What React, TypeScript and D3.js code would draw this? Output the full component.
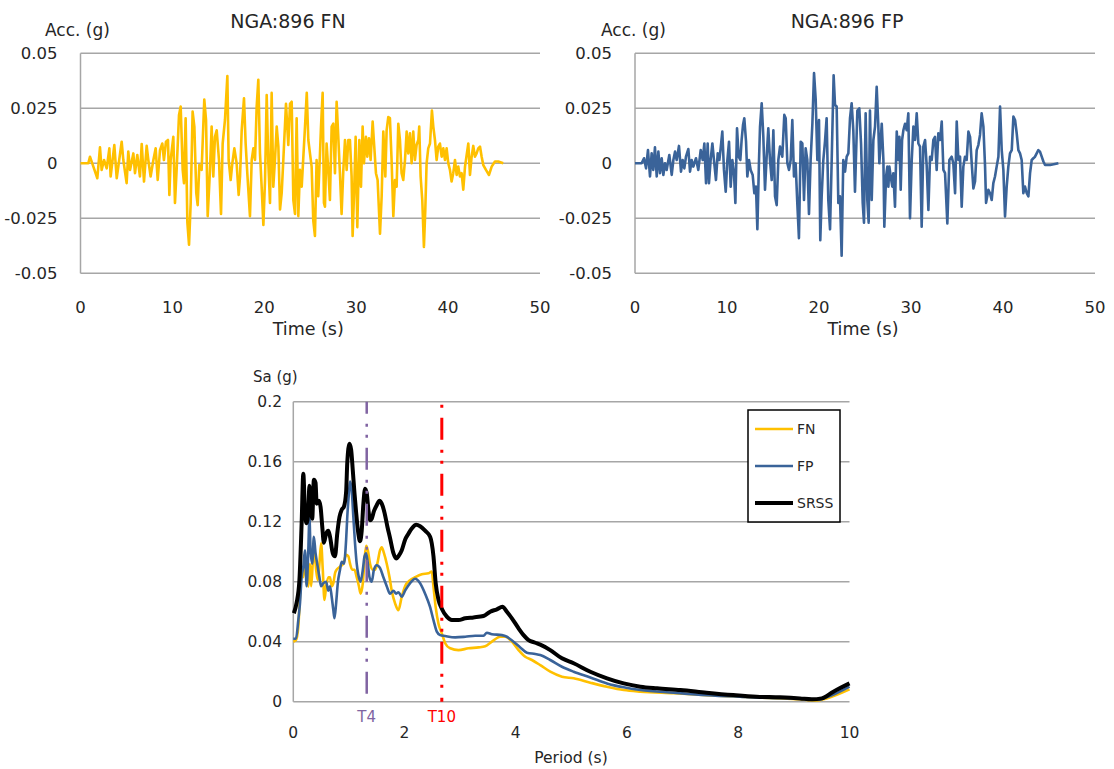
import React from "react";
import * as d3 from "d3";

// ---- Acceleration records (time in s, acceleration in g) ----
const fnRecord: [number, number][] = [
  [0,0],[0.85,0],[1.03,0.003],[1.40,-0.0015],[1.83,-0.0068],[2.12,0.0073],[2.30,-0.003],[2.56,0.0015],[2.85,-0.0023],[3.14,0.0068],[3.28,-0.006],[3.68,0.0083],[3.94,-0.0068],[4.48,0.0098],[4.66,0.0015],[5.02,-0.009],[5.20,0.0053],[5.39,-0.003],[5.75,0.0045],[5.93,-0.0045],[6.18,0.0038],[6.47,-0.006],[6.66,0.0088],[6.91,-0.0083],[7.20,0.0079],[7.38,0.0015],[7.63,-0.006],[7.93,0.0015],[8.18,0.0068],[8.40,-0.0076],[8.65,0.006],[8.90,0.009],[9.08,0.0015],[9.30,0.0098],[9.52,0.0106],[9.67,-0.0144],[9.81,0.0015],[10.10,0.012],[10.28,-0.018],[10.46,-0.003],[10.72,0.022],[10.90,0.0258],[11.12,-0.003],[11.26,-0.009],[11.44,0.0205],[11.63,-0.027],[11.81,-0.037],[11.99,-0.018],[12.20,0.0235],[12.39,0.0167],[12.60,-0.0136],[12.75,-0.019],[12.93,-0.0008],[13.18,-0.003],[13.37,0.018],[13.47,0.029],[13.66,0.0197],[13.84,-0.024],[14.09,-0.003],[14.27,0.0167],[14.45,-0.006],[14.63,0.012],[14.82,0.015],[15.07,0.0015],[15.29,-0.023],[15.47,0.009],[15.72,0.0197],[15.98,0.0397],[16.12,0.0015],[16.34,-0.0076],[16.52,0],[16.74,0.0068],[16.99,0],[17.21,-0.0144],[17.36,-0.006],[17.54,0.015],[17.79,0.0295],[17.97,0.009],[18.15,-0.0045],[18.44,-0.024],[18.63,0.0015],[18.81,0.0068],[18.99,0.0015],[19.17,0.0258],[19.35,0.038],[19.53,0.0045],[19.71,-0.0106],[19.90,-0.028],[20.08,-0.0076],[20.26,0.031],[20.44,0],[20.62,-0.018],[20.80,0.032],[20.98,-0.0106],[21.16,0.0015],[21.35,0.0167],[21.53,0.0076],[21.71,-0.021],[21.89,-0.0136],[22.07,0.0015],[22.36,0.027],[22.61,0.0083],[22.80,0.027],[22.98,0.028],[23.16,-0.0167],[23.34,-0.023],[23.52,0.0205],[23.70,-0.024],[23.88,-0.003],[24.07,-0.0106],[24.43,0.0167],[24.62,0.032],[24.79,0.0106],[24.97,0.0045],[25.15,-0.0015],[25.33,-0.026],[25.51,-0.033],[25.69,0.0015],[25.87,-0.015],[26.06,0.0045],[26.17,0.0167],[26.35,0.032],[26.49,-0.018],[26.60,-0.0197],[26.78,0.009],[26.96,-0.003],[27.14,-0.0167],[27.33,0.0167],[27.51,0.018],[27.69,-0.0045],[27.87,0.028],[28.05,0.012],[28.23,-0.0045],[28.41,-0.023],[28.60,-0.003],[28.78,0.0106],[28.96,-0.003],[29.14,0.0106],[29.32,0.0106],[29.50,-0.006],[29.61,-0.033],[29.79,-0.0106],[29.94,0.012],[30.12,-0.029],[30.34,0.0106],[30.52,-0.0106],[30.70,0.0167],[30.84,0],[31.06,0.012],[31.21,0.003],[31.39,0.0114],[31.57,0.0015],[31.79,0.019],[31.93,0.0098],[32.15,-0.0045],[32.33,-0.0076],[32.59,-0.032],[32.77,-0.015],[32.95,0.0144],[33.17,-0.006],[33.31,0.015],[33.49,0.021],[33.67,0.0205],[33.85,0.0015],[34.04,-0.024],[34.22,-0.0076],[34.40,-0.0106],[34.58,0.018],[34.76,0.0106],[34.94,-0.0045],[35.12,-0.0076],[35.31,0.0015],[35.49,0.0144],[35.67,0.0045],[35.85,0.0136],[36.03,0],[36.21,0.0144],[36.39,0.0015],[36.57,0.0083],[36.76,0.0106],[36.86,0.0167],[37.01,-0.006],[37.19,-0.0167],[37.37,-0.038],[37.52,-0.021],[37.66,0],[37.84,0.0068],[38.03,0.009],[38.24,0.024],[38.39,0.0167],[38.57,0.0106],[38.75,0.0015],[38.93,0.0076],[39.11,0.009],[39.30,0.003],[39.48,0.0068],[39.66,0.0015],[39.84,0.0068],[40.02,0],[40.20,-0.003],[40.38,-0.0083],[40.56,-0.0045],[40.75,0.0015],[40.93,-0.0053],[41.11,-0.0015],[41.29,-0.006],[41.47,-0.0045],[41.65,-0.012],[41.84,-0.0015],[42.02,0.0038],[42.20,0.009],[42.38,-0.0053],[42.56,0.003],[42.74,0.0079],[42.92,0.003],[43.10,0.0045],[43.28,0.0068],[43.47,0.0076],[43.65,0.003],[43.83,-0.0008],[44.12,-0.003],[44.45,-0.0053],[44.74,-0.0015],[45.10,0.0008],[45.46,0.0008],[46.00,0]
];

const fpRecord: [number, number][] = [
  [0,0],[0.72,0],[0.98,0.0023],[1.20,-0.0023],[1.41,0.006],[1.63,-0.006],[1.81,0.0045],[1.99,-0.003],[2.17,0.0073],[2.36,-0.006],[2.54,0.0053],[2.72,-0.0045],[2.90,0.0023],[3.08,-0.0053],[3.26,0],[3.44,-0.003],[3.73,0.0038],[3.99,-0.0053],[4.17,0.0015],[4.35,0.0053],[4.53,0.0015],[4.78,0.0079],[5.00,-0.0038],[5.18,0.0015],[5.36,-0.0023],[5.54,0.003],[5.80,0.0065],[5.98,-0.0038],[6.16,0.0015],[6.34,-0.0015],[6.63,0.0023],[6.88,-0.003],[7.14,0.006],[7.36,0.0015],[7.54,0.009],[7.72,-0.009],[7.90,0.009],[8.04,-0.009],[8.22,0.0015],[8.41,0.009],[8.62,0],[8.80,-0.0076],[8.99,0.0045],[9.17,0.0015],[9.31,0.0068],[9.49,0.0144],[9.67,-0.003],[9.86,-0.0129],[10.04,0.0015],[10.22,0.0098],[10.40,-0.0106],[10.58,0.0015],[10.76,-0.0045],[10.91,-0.018],[11.09,0.0159],[11.27,0.003],[11.45,0.0015],[11.59,0.0106],[11.74,0.0174],[11.88,0.0205],[12.07,0.0098],[12.21,-0.006],[12.39,0.0015],[12.57,-0.003],[12.79,-0.0053],[12.97,-0.0136],[13.15,-0.0106],[13.30,-0.03],[13.48,0.0015],[13.59,0.0167],[13.77,0.0273],[13.95,0.012],[14.13,-0.012],[14.31,0.003],[14.49,0.0159],[14.67,0.0015],[14.86,-0.0076],[15.04,0.015],[15.22,-0.015],[15.40,-0.019],[15.58,0.0015],[15.76,0.0076],[16.01,0.003],[16.23,0.022],[16.38,0.0205],[16.56,0],[16.74,-0.003],[16.92,0.0015],[17.10,0.0197],[17.28,-0.006],[17.46,0],[17.64,-0.018],[17.82,-0.034],[18.01,0.0098],[18.19,0.009],[18.37,-0.0167],[18.55,0.0068],[18.73,0.0015],[18.91,-0.023],[19.09,0.0015],[19.28,0.018],[19.46,0.041],[19.64,0.029],[19.82,0.0015],[20.00,0.0197],[20.14,-0.035],[20.29,-0.015],[20.47,0.0015],[20.65,0.0098],[20.83,0.0205],[21.01,-0.0167],[21.20,-0.03],[21.38,0.0015],[21.59,0.04],[21.74,0.0265],[21.92,0.0258],[22.10,-0.018],[22.28,-0.015],[22.46,-0.042],[22.64,0.0015],[22.83,-0.0038],[23.01,0.003],[23.19,0.0045],[23.37,0.0205],[23.55,0.0273],[23.73,0.015],[23.91,-0.0129],[24.17,0.024],[24.38,0.025],[24.57,0.009],[24.75,-0.018],[24.89,-0.027],[25.07,0.0227],[25.25,-0.0167],[25.40,-0.027],[25.54,0.024],[25.73,-0.0167],[25.91,0.0106],[26.09,0.0167],[26.27,0.0348],[26.45,0.0167],[26.56,0],[26.71,0.0106],[26.82,0.018],[27.00,0.0015],[27.10,-0.0288],[27.29,-0.006],[27.43,-0.0015],[27.54,-0.0106],[27.65,-0.0015],[27.79,-0.006],[27.97,-0.0106],[28.08,-0.0045],[28.26,-0.0197],[28.45,0.0144],[28.63,0.0015],[28.74,0.012],[28.88,-0.012],[29.03,0.0106],[29.17,0.015],[29.35,0.018],[29.53,0.015],[29.71,0.0227],[29.89,-0.025],[30.08,0.0015],[30.26,0.0167],[30.44,0.0106],[30.62,0.0227],[30.80,0.009],[30.98,0.0076],[31.16,-0.0288],[31.34,0.0076],[31.53,0.0106],[31.71,-0.0015],[31.89,-0.0212],[32.07,0.003],[32.25,0.0015],[32.43,0.0106],[32.61,0.012],[32.79,-0.003],[32.97,0.0136],[33.16,0.0106],[33.34,0.019],[33.52,-0.003],[33.70,-0.0045],[33.95,-0.0273],[34.17,0.0015],[34.42,0.003],[34.60,0],[34.79,-0.0136],[34.97,0.019],[35.15,0.0015],[35.33,0.003],[35.51,-0.0197],[35.69,-0.0015],[35.87,0.003],[36.05,0.0015],[36.24,0.0144],[36.42,0.012],[36.60,0],[36.78,-0.0114],[36.96,-0.0083],[37.14,0.006],[37.32,0.0083],[37.50,0.0129],[37.68,0.0227],[37.87,0.0167],[38.05,-0.0015],[38.16,-0.018],[38.41,-0.012],[38.59,-0.0136],[38.77,-0.0167],[38.95,-0.009],[39.13,-0.006],[39.31,-0.0015],[39.50,0.003],[39.68,0.0258],[39.86,0.006],[40.04,-0.003],[40.22,-0.0242],[40.40,-0.0106],[40.58,-0.0015],[40.76,0.0045],[40.95,0.006],[41.13,0.0212],[41.31,0.0197],[41.49,0.0136],[41.67,0.006],[41.85,0.0045],[42.03,0.0015],[42.21,-0.0136],[42.39,-0.0106],[42.58,-0.0136],[42.76,-0.015],[42.94,-0.0045],[43.12,0.0015],[43.30,0.0023],[43.48,0.003],[43.66,0.0045],[43.84,0.006],[44.02,0.0053],[44.21,0.003],[44.39,0.0008],[44.57,-0.0008],[45.12,-0.0008],[46.02,0]
];

// ---- Response spectra (period in s, Sa in g) ----
const fnSpectrum: [number, number][] = [
  [0,0.040],[0.048,0.041],[0.09,0.050],[0.12,0.070],[0.15,0.088],[0.18,0.083],[0.21,0.092],[0.24,0.0856],[0.27,0.0767],[0.30,0.092],[0.32,0.077],[0.35,0.092],[0.38,0.101],[0.41,0.088],[0.44,0.081],[0.47,0.092],[0.50,0.1056],[0.53,0.088],[0.56,0.0678],[0.59,0.0767],[0.63,0.083],[0.66,0.083],[0.69,0.077],[0.72,0.079],[0.75,0.0856],[0.78,0.088],[0.84,0.090],[0.90,0.092],[0.95,0.098],[0.99,0.097],[1.02,0.092],[1.06,0.088],[1.10,0.088],[1.14,0.083],[1.18,0.077],[1.21,0.072],[1.25,0.079],[1.28,0.0944],[1.31,0.104],[1.34,0.101],[1.38,0.092],[1.43,0.088],[1.47,0.088],[1.51,0.092],[1.56,0.101],[1.59,0.103],[1.63,0.099],[1.68,0.092],[1.73,0.083],[1.77,0.074],[1.83,0.0656],[1.89,0.061],[1.95,0.070],[2.01,0.077],[2.10,0.081],[2.19,0.083],[2.31,0.085],[2.43,0.0856],[2.49,0.0867],[2.52,0.0767],[2.56,0.063],[2.61,0.052],[2.67,0.0456],[2.73,0.039],[2.82,0.0356],[2.97,0.0344],[3.15,0.0356],[3.33,0.0362],[3.45,0.037],[3.57,0.040],[3.72,0.0433],[3.81,0.0433],[3.93,0.040],[4.05,0.0344],[4.17,0.030],[4.29,0.0278],[4.44,0.0244],[4.62,0.020],[4.83,0.0167],[5.04,0.0156],[5.34,0.0127],[5.64,0.010],[5.94,0.0078],[6.24,0.0067],[6.84,0.0056],[7.43,0.0044],[8.03,0.0033],[8.63,0.0024],[9.11,0.0016],[9.41,0.0007],[9.59,0.0022],[10.0,0.0082]
];

const fpSpectrum: [number, number][] = [
  [0,0.042],[0.048,0.042],[0.09,0.0544],[0.12,0.0656],[0.15,0.083],[0.18,0.090],[0.21,0.101],[0.24,0.077],[0.27,0.101],[0.29,0.123],[0.31,0.101],[0.34,0.092],[0.37,0.110],[0.40,0.099],[0.43,0.092],[0.47,0.083],[0.50,0.077],[0.54,0.079],[0.59,0.080],[0.63,0.074],[0.66,0.077],[0.69,0.070],[0.72,0.061],[0.74,0.0556],[0.77,0.0656],[0.80,0.079],[0.84,0.088],[0.87,0.0933],[0.91,0.092],[0.95,0.108],[0.97,0.123],[1.00,0.139],[1.02,0.1467],[1.05,0.141],[1.08,0.123],[1.11,0.1056],[1.14,0.092],[1.17,0.0844],[1.21,0.080],[1.25,0.088],[1.28,0.0967],[1.31,0.099],[1.34,0.092],[1.37,0.083],[1.41,0.080],[1.45,0.088],[1.50,0.091],[1.56,0.089],[1.62,0.083],[1.68,0.077],[1.74,0.072],[1.80,0.074],[1.85,0.072],[1.89,0.073],[1.95,0.070],[2.01,0.074],[2.10,0.079],[2.19,0.082],[2.28,0.079],[2.37,0.072],[2.46,0.063],[2.52,0.0544],[2.58,0.0467],[2.64,0.0444],[2.73,0.0438],[2.91,0.0429],[3.09,0.0433],[3.27,0.044],[3.42,0.044],[3.48,0.046],[3.57,0.045],[3.75,0.0444],[3.84,0.0433],[3.96,0.040],[4.08,0.0362],[4.20,0.0327],[4.35,0.0318],[4.44,0.0311],[4.62,0.0278],[4.83,0.0233],[5.04,0.020],[5.34,0.0162],[5.64,0.0122],[5.94,0.0096],[6.24,0.0078],[6.84,0.006],[7.43,0.0044],[8.03,0.0033],[8.63,0.0024],[9.11,0.002],[9.41,0.0011],[9.59,0.0029],[10.0,0.010]
];

const srssSpectrum: [number, number][] = [
  [0.01,0.059],[0.06,0.066],[0.11,0.081],[0.15,0.119],[0.18,0.152],[0.21,0.126],[0.24,0.119],[0.27,0.128],[0.29,0.144],[0.32,0.126],[0.34,0.122],[0.37,0.148],[0.40,0.146],[0.42,0.132],[0.46,0.134],[0.49,0.130],[0.52,0.117],[0.55,0.106],[0.59,0.112],[0.63,0.114],[0.66,0.110],[0.71,0.099],[0.75,0.097],[0.79,0.112],[0.83,0.123],[0.87,0.128],[0.91,0.130],[0.95,0.140],[0.97,0.159],[1.01,0.172],[1.04,0.168],[1.07,0.154],[1.10,0.139],[1.13,0.126],[1.17,0.112],[1.20,0.107],[1.23,0.114],[1.26,0.132],[1.29,0.142],[1.32,0.139],[1.35,0.128],[1.38,0.121],[1.41,0.122],[1.45,0.127],[1.50,0.131],[1.55,0.134],[1.59,0.132],[1.64,0.126],[1.69,0.117],[1.74,0.109],[1.80,0.099],[1.85,0.0955],[1.89,0.097],[1.95,0.101],[2.01,0.108],[2.07,0.112],[2.13,0.1155],[2.21,0.118],[2.28,0.117],[2.37,0.114],[2.46,0.110],[2.52,0.097],[2.56,0.079],[2.61,0.068],[2.67,0.062],[2.76,0.0567],[2.85,0.0544],[2.97,0.0544],[3.09,0.0556],[3.24,0.0562],[3.42,0.0571],[3.54,0.060],[3.66,0.0616],[3.76,0.0633],[3.84,0.060],[3.93,0.0556],[4.05,0.0489],[4.14,0.0444],[4.23,0.0411],[4.35,0.0393],[4.44,0.038],[4.62,0.0344],[4.83,0.0289],[5.04,0.0256],[5.34,0.020],[5.64,0.0156],[5.94,0.0122],[6.24,0.010],[6.54,0.0089],[6.96,0.0078],[7.43,0.006],[7.91,0.0044],[8.33,0.0033],[8.75,0.0029],[9.11,0.0022],[9.32,0.0016],[9.50,0.0022],[9.71,0.0067],[10.0,0.0122]
];

// Characteristic periods marked on the spectrum
const markerPeriods = [
  { label: "T4", period: 1.32, color: "#8064A2" },
  { label: "T10", period: 2.67, color: "#FF0000" },
];

const accTicks = [0.05, 0.025, 0, -0.025, -0.05];
const accTickLabels = ["0.05", "0.025", "0", "-0.025", "-0.05"];
const timeTicks = [0, 10, 20, 30, 40, 50];
const saTicks = [0, 0.04, 0.08, 0.12, 0.16, 0.2];
const saTickLabels = ["0", "0.04", "0.08", "0.12", "0.16", "0.2"];
const periodTicks = [0, 2, 4, 6, 8, 10];

const legendItems = [
  { name: "FN", color: "#FFC000", width: 2.5 },
  { name: "FP", color: "#3A6399", width: 2.5 },
  { name: "SRSS", color: "#000000", width: 4 },
];

const FONT = "'DejaVu Sans', Verdana, sans-serif";
const GRID = "#a6a6a6";
const TEXT = "#262626";

type PanelProps = {
  left: number;
  right: number;
  title: string;
  titleX: number;
  axisLabelX: number;
  data: [number, number][];
  color: string;
};

function AccPanel({ left, right, title, titleX, axisLabelX, data, color }: PanelProps) {
  const x = d3.scaleLinear().domain([0, 50]).range([left, right]);
  const y = d3.scaleLinear().domain([-0.05, 0.05]).range([273.3, 53.3]);
  const line = d3
    .line<[number, number]>()
    .x((d) => x(d[0]))
    .y((d) => y(d[1]));
  return (
    <g>
      <text x={titleX} y={21} textAnchor="middle" dominantBaseline="central" fontSize={19} fill={TEXT}>
        {title}
      </text>
      <text x={axisLabelX} y={30} dominantBaseline="central" fontSize={17} fill={TEXT}>
        Acc. (g)
      </text>
      {accTicks.map((t, i) => (
        <g key={t}>
          <line x1={left} x2={right} y1={y(t)} y2={y(t)} stroke={GRID} strokeWidth={1.5} />
          <text
            x={left - 23}
            y={y(t)}
            textAnchor="end"
            dominantBaseline="central"
            fontSize={16.5}
            fill={TEXT}
          >
            {accTickLabels[i]}
          </text>
        </g>
      ))}
      <line x1={left} x2={left} y1={y(0.05)} y2={y(-0.05)} stroke={GRID} strokeWidth={1.5} />
      {timeTicks.map((t) => (
        <text
          key={t}
          x={x(t)}
          y={307}
          textAnchor="middle"
          dominantBaseline="central"
          fontSize={16.5}
          fill={TEXT}
        >
          {t}
        </text>
      ))}
      <text
        x={(left + right) / 2 - 2}
        y={329}
        textAnchor="middle"
        dominantBaseline="central"
        fontSize={17.5}
        fill={TEXT}
      >
        Time (s)
      </text>
      <path
        d={line(data) || ""}
        fill="none"
        stroke={color}
        strokeWidth={2.6}
        strokeLinejoin="round"
      />
    </g>
  );
}

function SpectrumPanel() {
  const x = d3.scaleLinear().domain([0, 10]).range([293.3, 849.5]);
  const y = d3.scaleLinear().domain([0, 0.2]).range([701.7, 401.7]);
  const smooth = d3
    .line<[number, number]>()
    .x((d) => x(d[0]))
    .y((d) => y(d[1]))
    .curve(d3.curveMonotoneX);

  const legendX = 748;
  const legendY = 410;
  const rowY = [429, 466, 503];

  return (
    <g>
      <text x={253} y={377} dominantBaseline="central" fontSize={15} fill={TEXT}>
        Sa (g)
      </text>
      {saTicks.map((t, i) => (
        <g key={t}>
          <line x1={x(0)} x2={x(10)} y1={y(t)} y2={y(t)} stroke={GRID} strokeWidth={1.5} />
          <text
            x={282}
            y={y(t)}
            textAnchor="end"
            dominantBaseline="central"
            fontSize={15.5}
            fill={TEXT}
          >
            {saTickLabels[i]}
          </text>
        </g>
      ))}
      <line x1={x(0)} x2={x(0)} y1={y(0)} y2={y(0.2)} stroke={GRID} strokeWidth={1.5} />
      {periodTicks.map((t) => (
        <text
          key={t}
          x={x(t)}
          y={733}
          textAnchor="middle"
          dominantBaseline="central"
          fontSize={15.5}
          fill={TEXT}
        >
          {t}
        </text>
      ))}
      <text
        x={571}
        y={758}
        textAnchor="middle"
        dominantBaseline="central"
        fontSize={15.5}
        fill={TEXT}
      >
        Period (s)
      </text>

      <path d={smooth(fnSpectrum) || ""} fill="none" stroke="#FFC000" strokeWidth={2.6} strokeLinejoin="round" />
      <path d={smooth(fpSpectrum) || ""} fill="none" stroke="#3A6399" strokeWidth={2.6} strokeLinejoin="round" />
      <path d={smooth(srssSpectrum) || ""} fill="none" stroke="#000000" strokeWidth={4} strokeLinejoin="round" />

      {markerPeriods.map((m) => (
        <g key={m.label}>
          <line
            x1={x(m.period)}
            x2={x(m.period)}
            y1={y(0.2)}
            y2={y(0)}
            stroke={m.color}
            strokeWidth={m.label === "T10" ? 3 : 2.5}
            strokeDasharray="22 10 3 8 3 10"
            strokeDashoffset={m.label === "T10" ? 40 : 10}
          />
          <text
            x={x(m.period)}
            y={717}
            textAnchor="middle"
            dominantBaseline="central"
            fontSize={15}
            fill={m.color}
          >
            {m.label}
          </text>
        </g>
      ))}

      <rect
        x={legendX}
        y={legendY}
        width={92}
        height={112}
        fill="#ffffff"
        stroke="#000000"
        strokeWidth={1.5}
      />
      {legendItems.map((item, i) => (
        <g key={item.name}>
          <line
            x1={755}
            x2={793}
            y1={rowY[i]}
            y2={rowY[i]}
            stroke={item.color}
            strokeWidth={item.width}
          />
          <text x={797} y={rowY[i]} dominantBaseline="central" fontSize={14} fill={TEXT}>
            {item.name}
          </text>
        </g>
      ))}
    </g>
  );
}

export default function App() {
  return (
    <div style={{ position: "fixed", left: 0, top: 0 }}>
      <svg width={1114} height={769} style={{ display: "block", fontFamily: FONT }}>
        <rect width={1114} height={769} fill="#ffffff" />
        <AccPanel
          left={80.5}
          right={540}
          title="NGA:896 FN"
          titleX={288}
          axisLabelX={45}
          data={fnRecord}
          color="#FFC000"
        />
        <AccPanel
          left={635}
          right={1095}
          title="NGA:896 FP"
          titleX={847}
          axisLabelX={601}
          data={fpRecord}
          color="#3A6399"
        />
        <SpectrumPanel />
      </svg>
    </div>
  );
}
